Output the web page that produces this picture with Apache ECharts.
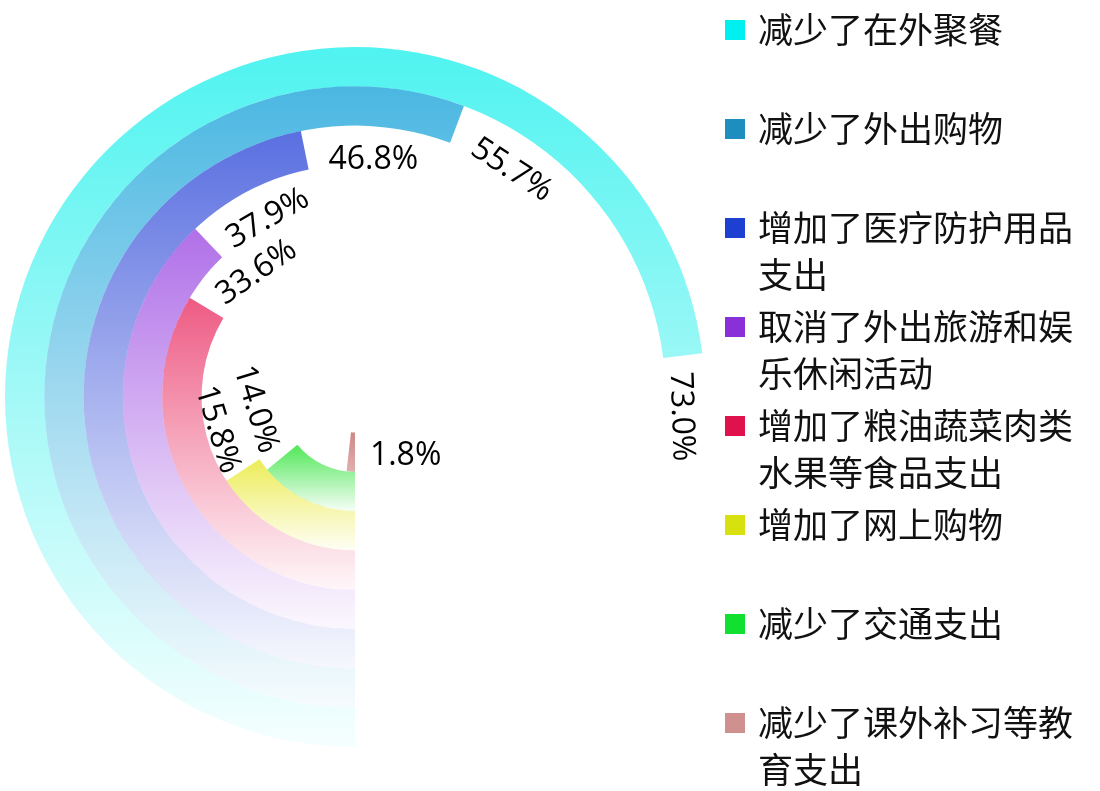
<!DOCTYPE html>
<html><head><meta charset="utf-8">
<script src="https://cdn.jsdelivr.net/npm/echarts@6/dist/echarts.min.js"></script>
<style>html,body{margin:0;padding:0;background:#fff}#c{width:1100px;height:791px}</style>
</head><body><div id="c"></div>
<script>
// ---- data ----
const categories = ['减少了在外聚餐','减少了外出购物','增加了医疗防护用品支出','取消了外出旅游和娱乐休闲活动','增加了粮油蔬菜肉类水果等食品支出','增加了网上购物','减少了交通支出','减少了课外补习等教育支出'];
const values = [73.0, 55.7, 46.8, 37.9, 33.6, 15.8, 14.0, 1.8];

// ---- styles ----
const legendColors = ['#00F0F0','#1E8EC0','#1D40D0','#8A30D8','#E0124E','#D8E010','#12E030','#D09090'];
const barColors = ['#14EFEB','#0E9FD8','#233FD6','#9640E0','#E8235A','#E6E620','#16E020','#C06060'];
const gradEndAlpha = [0.04, 0.04, 0.04, 0.04, 0.04, 0.04, 0.04, 0.5];
const labelRotDeg = [-88, -33, 0, 30, 35, -73, -73, 0];
const labelAlign = ['left','left','left','left','left','right','right','left'];
const labelOffset = [[0, 5], [10, 12], [8, 13], [3, 12], [2, 6], [14, 8], [6, 5], [37, 6]];

function rgba(hex, a){
  const n = parseInt(hex.slice(1),16);
  return 'rgba(' + ((n>>16)&255) + ',' + ((n>>8)&255) + ',' + (n&255) + ',' + a + ')';
}

const chart = echarts.init(document.getElementById('c'), null, {renderer:'canvas'});
const LH = 47;            // legend line height
const H = LH * 3;         // uniform legend item height (3 text lines)
const option = {
  animation: false,
  backgroundColor: '#fff',
  polar: { center: [355, 397], radius: [35.5, 350] },
  angleAxis: { type: 'value', min: 0, max: 100, startAngle: 270, clockwise: true, show: false },
  radiusAxis: { type: 'category', data: categories, inverse: true, show: false },
  legend: {
    orient: 'vertical', left: 725, top: 30 - H / 2, height: 1200, padding: 0,
    itemWidth: 20, itemHeight: 20, itemGap: 99 - H, icon: 'rect', selectedMode: false,
    formatter: n => '\u00a0\n' + n + (n.length > 9 ? '' : '\n\u00a0'),
    textStyle: { fontSize: 35, lineHeight: LH, width: 340, overflow: 'break', color: '#111', fontFamily: 'Noto Sans CJK SC', padding: [0, 0, 0, 8] },
    data: categories.map((n, i) => ({ name: n, itemStyle: { color: legendColors[i] } }))
  },
  series: categories.map((name, i) => ({
    name: name,
    type: 'bar',
    coordinateSystem: 'polar',
    barGap: '-100%',
    barCategoryGap: '0%',
    itemStyle: {
      color: new echarts.graphic.LinearGradient(0, 0, 0, 1, [
        { offset: 0, color: rgba(barColors[i], 0.75) },
        { offset: 1, color: rgba(barColors[i], gradEndAlpha[i]) }
      ])
    },
    label: {
      show: true, position: 'end', distance: 16,
      fontSize: 32, fontFamily: 'Open Sans', color: '#000',
      formatter: p => Number(p.value).toFixed(1) + '%'
    },
    data: categories.map((c, j) => j === i ? {
      value: values[i],
      label: { rotate: labelRotDeg[i] * Math.PI / 180, align: labelAlign[i], offset: labelOffset[i] }
    } : '-')
  }))
};
chart.setOption(option);
</script></body></html>
